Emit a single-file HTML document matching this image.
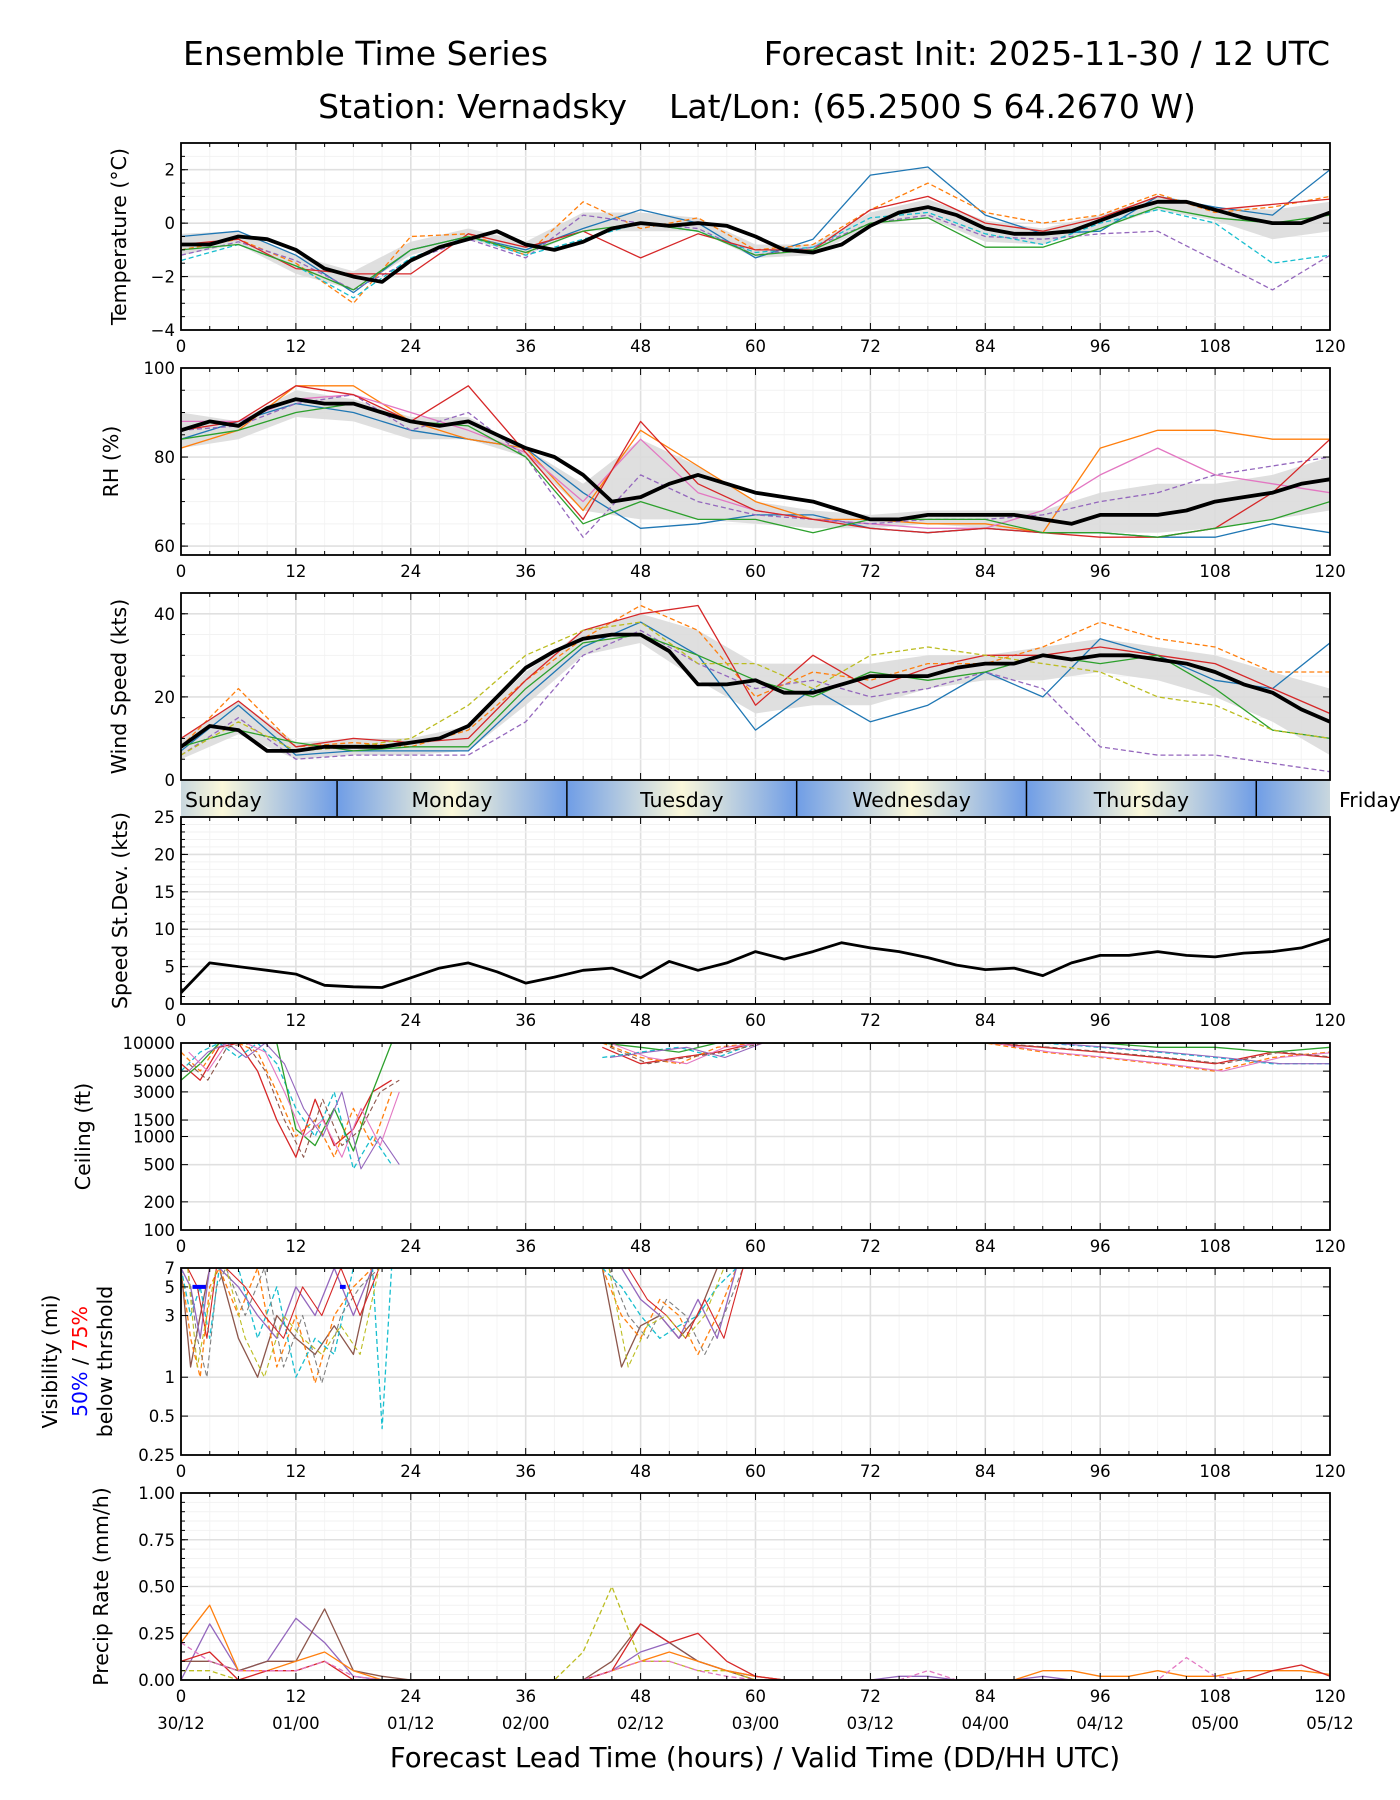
<!DOCTYPE html>
<html><head><meta charset="utf-8"><style>
html,body{margin:0;padding:0;background:#fff;}
svg{display:block;font-family:"DejaVu Sans","Liberation Sans",sans-serif;}
</style></head><body>
<svg id="fig" xmlns="http://www.w3.org/2000/svg" width="1400" height="1800" viewBox="0 0 1400 1800">
<defs>
<linearGradient id="dayGrad" gradientUnits="userSpaceOnUse" x1="0" y1="0" x2="1" y2="0"></linearGradient>
</defs>
<text x="183" y="65" font-size="33">Ensemble Time Series</text>
<text x="1330" y="65" font-size="33" text-anchor="end">Forecast Init: 2025-11-30 / 12 UTC</text>
<text x="757" y="118" font-size="33" text-anchor="middle" xml:space="preserve">Station: Vernadsky    Lat/Lon: (65.2500 S 64.2670 W)</text>
<text x="755" y="1767" font-size="27.5" text-anchor="middle">Forecast Lead Time (hours) / Valid Time (DD/HH UTC)</text>
</svg>
<script>
// ---------- data ----------
const hours3 = [0,3,6,9,12,15,18,21,24,27,30,33,36,39,42,45,48,51,54,57,60,63,66,69,72,75,78,81,84,87,90,93,96,99,102,105,108,111,114,117,120];
const hours6 = [0,6,12,18,24,30,36,42,48,54,60,66,72,78,84,90,96,102,108,114,120];
const xTickLabels = ['0','12','24','36','48','60','72','84','96','108','120'];
const dateLabels = ['30/12','01/00','01/12','02/00','02/12','03/00','03/12','04/00','04/12','05/00','05/12'];
const dayNames = ['Sunday','Monday','Tuesday','Wednesday','Thursday','Friday'];

const tempMean = [-0.8,-0.8,-0.5,-0.6,-1.0,-1.7,-2.0,-2.2,-1.4,-0.9,-0.6,-0.3,-0.8,-1.0,-0.7,-0.2,0.0,-0.1,0.0,-0.1,-0.5,-1.0,-1.1,-0.8,-0.1,0.4,0.6,0.3,-0.2,-0.4,-0.4,-0.3,0.1,0.5,0.8,0.8,0.5,0.2,0.0,0.0,0.4];
const tempLo = [-1.2,-0.8,-1.9,-2.5,-1.2,-0.6,-1.2,-0.3,-0.3,-0.3,-1.3,-1.2,-0.1,0.2,-0.7,-0.8,-0.2,0.5,0.1,-0.6,-0.3];
const tempHi = [-0.4,-0.3,-1.2,-1.8,-0.7,-0.2,-0.7,0.4,0.4,0.2,-0.8,-0.8,0.4,0.9,0.1,-0.2,0.3,1.0,0.6,0.5,0.8];
const tempM1 = [-0.5,-0.3,-1.2,-2.6,-1.0,-0.5,-1.0,-0.2,0.5,0.0,-1.3,-0.6,1.8,2.1,0.3,-0.4,-0.3,1.0,0.6,0.3,2.0];
const tempM2 = [-1.0,-0.6,-1.5,-3.0,-0.5,-0.4,-1.2,0.8,-0.2,0.2,-1.0,-0.8,0.5,1.5,0.4,0.0,0.3,1.1,0.4,0.6,1.0];
const tempM3 = [-1.2,-0.7,-1.4,-2.5,-1.4,-0.6,-1.3,0.3,0.0,-0.2,-1.2,-0.9,0.0,0.3,-0.5,-0.6,-0.4,-0.3,-1.4,-2.5,-1.2];
const tempM4 = [-1.4,-0.8,-1.6,-2.8,-1.3,-0.5,-1.2,-0.6,0.0,-0.3,-1.1,-0.9,0.2,0.4,-0.4,-0.8,0.0,0.5,0.0,-1.5,-1.2];
const tempM5 = [-0.8,-0.6,-1.7,-1.9,-1.9,-0.4,-0.9,-0.3,-1.3,-0.4,-1.0,-1.0,0.5,1.0,0.0,-0.3,0.2,1.0,0.5,0.7,0.9];
const tempM6 = [-1.0,-0.8,-1.6,-2.5,-1.0,-0.5,-1.1,-0.3,0.0,-0.3,-1.2,-1.0,0.0,0.2,-0.9,-0.9,-0.2,0.6,0.2,0.0,0.3];

const rhMean = [86,88,87,91,93,92,92,90,88,87,88,85,82,80,76,70,71,74,76,74,72,71,70,68,66,66,67,67,67,67,66,65,67,67,67,68,70,71,72,74,75];
const rhLo = [82,84,89,88,84,84,80,68,66,66,65,64,64,65,64,63,63,63,64,66,68];
const rhHi = [90,88,95,93,89,89,82,74,84,78,70,68,67,68,68,68,72,74,74,76,80];
const rhM1 = [84,88,92,90,86,84,82,72,64,65,67,67,64,63,64,63,63,62,62,65,63];
const rhM2 = [82,86,96,96,88,84,82,68,86,78,70,66,66,65,65,63,82,86,86,84,84];
const rhM3 = [88,88,93,94,90,86,81,70,84,72,68,66,65,64,64,68,76,82,76,74,72];
const rhM4 = [86,87,92,94,86,90,80,62,76,70,67,66,65,66,66,67,70,72,76,78,80];
const rhM5 = [86,88,96,94,88,96,81,66,88,74,68,66,64,63,64,63,62,62,64,72,84];
const rhM6 = [84,86,90,92,88,87,80,65,70,66,66,63,66,66,66,63,63,62,64,66,70];

const windMean = [8,13,12,7,7,8,8,8,9,10,13,20,27,31,34,35,35,31,23,23,24,21,21,23,25,25,25,27,28,28,30,29,30,30,29,28,26,23,21,17,14];
const windLo = [5,11,5,6,6,7,18,30,33,24,16,18,18,22,24,24,26,24,20,14,6];
const windHi = [10,19,9,10,10,13,26,36,40,36,28,28,28,30,30,32,34,32,30,26,22];
const windM1 = [7,18,6,7,7,7,20,32,38,30,12,22,14,18,26,20,34,30,24,22,33];
const windM2 = [8,22,8,9,8,12,24,34,42,36,20,26,24,28,28,32,38,34,32,26,26];
const windM3 = [6,15,5,6,6,6,14,30,36,28,22,24,20,22,26,22,8,6,6,4,2];
const windM4 = [10,19,8,10,9,10,24,36,40,42,18,30,22,27,30,30,32,30,28,22,16];
const windM5 = [8,12,9,7,8,8,22,33,35,30,24,20,26,24,26,30,28,30,22,12,10];
const windM6 = [6,14,7,8,10,18,30,36,38,28,28,22,30,32,30,28,26,20,18,12,10];

const sdev = [1.5,5.5,5,4.5,4,2.5,2.3,2.2,3.5,4.8,5.5,4.3,2.8,3.6,4.5,4.8,3.5,5.7,4.5,5.5,7,6,7,8.2,7.5,7,6.2,5.2,4.6,4.8,3.8,5.5,6.5,6.5,7,6.5,6.3,6.8,7,7.5,8.7];

const ceilHours = [0,2,4,6,8,10,12,14,16,18,20,22,44,48,52,56,60,66,72,78,84,90,96,102,108,114,120];
const ceilA = [6000,4000,9000,10000,5000,1500,600,2500,800,1200,3000,4000,9000,6000,7000,8000,10000,10000,10000,10000,10000,9000,8000,7000,6000,8000,7000];
const ceilB = [5000,8000,10000,7000,10000,6000,2000,1000,3000,450,1000,500,7000,8000,9000,7000,10000,10000,10000,10000,10000,10000,9000,8000,7000,6000,6000];
const ceilC = [8000,5000,10000,10000,8000,3000,1000,1500,600,2000,800,3000,10000,7000,6000,9000,10000,10000,10000,10000,10000,8000,7000,6000,5000,7000,8000];
const ceilD = [4000,6000,10000,10000,10000,10000,1200,800,2000,700,3000,10000,10000,9000,8000,10000,10000,10000,10000,10000,10000,10000,10000,9000,9000,8000,9000];

const visHours = [0,1,2,3,4,6,8,10,12,14,16,18,20,21,22,44,46,48,50,52,54,56,58];
const visA = [7,1.2,3,7,7,2,1,3,2,1.5,2.5,1.5,7,7,7,7,1.2,2.5,3,2,3,7,7];
const visB = [7,2,1,5,7,3,7,1.2,3,0.9,3,5,7,7,7,7,3,2,4,3,1.5,3,7];
const visC = [7,3,5,2,7,7,2,5,1,2,1.5,7,7,0.4,7,7,5,3,2,2.5,3,5,7];
const visD = [7,5,2,7,7,5,3,2,5,3,7,3,7,7,7,7,7,4,3,2,4,2,7];

const precA = [0,0.3,0.05,0.1,0.33,0.2,0.02,0,0,0,0,0,0,0,0,0.05,0.15,0.2,0.1,0.05,0.02,0,0,0,0,0.02,0.02,0,0,0,0.02,0,0,0,0,0,0,0,0,0,0];
const precB = [0.1,0.1,0.05,0.1,0.1,0.38,0.05,0.02,0,0,0,0,0,0,0,0.1,0.3,0.2,0.1,0.05,0,0,0,0,0,0,0,0,0,0,0,0,0,0,0,0,0,0,0,0,0];
const precC = [0.05,0.05,0,0,0,0,0,0,0,0,0,0,0,0,0.15,0.5,0.1,0.1,0.05,0.05,0,0,0,0,0,0,0,0,0,0,0,0,0,0,0,0,0,0,0,0,0];
const precD = [0.2,0.4,0.05,0.05,0.1,0.15,0.05,0,0,0,0,0,0,0,0,0.05,0.1,0.15,0.1,0.05,0.02,0,0,0,0,0,0,0,0,0,0.05,0.05,0.02,0.02,0.05,0.02,0.02,0.05,0.05,0.05,0.03];
const precE = [0.1,0.15,0,0.05,0.05,0.1,0,0,0,0,0,0,0,0,0,0.05,0.3,0.2,0.25,0.1,0.02,0,0,0,0,0,0,0,0,0,0,0,0,0,0,0,0,0,0.05,0.08,0.02];
const precF = [0.2,0.1,0.05,0.05,0.05,0.1,0.02,0,0,0,0,0,0,0,0,0.05,0.1,0.1,0.05,0.02,0,0,0,0,0,0,0.05,0,0,0,0,0,0,0,0,0.12,0.02,0,0,0,0];

// ---------- drawing ----------
const NS = 'http://www.w3.org/2000/svg';
const svg = document.getElementById('fig');
const L = 181, R = 1330, H = 187;
const TF = 16.5, YF = 20.5;
const C = ['#1f77b4','#ff7f0e','#2ca02c','#d62728','#9467bd','#8c564b','#e377c2','#7f7f7f','#bcbd22','#17becf'];
function mk(tag, parent){ const e = document.createElementNS(NS, tag); (parent||svg).appendChild(e); return e; }
function xs(h){ return L + h*(R-L)/120; }

function panel(id, top, ymin, ymax, log){
  const g = mk('g');
  
  
  const cp = mk('clipPath', g); cp.setAttribute('id', 'clip-' + id);
  const cr = mk('rect', cp);
  cr.setAttribute('x', L); cr.setAttribute('y', top); cr.setAttribute('width', R-L); cr.setAttribute('height', H);
  const f = log ? Math.log10 : (v)=>v;
  const ys = (v)=> top + H - (f(v)-f(ymin))/(f(ymax)-f(ymin))*H;
  return {g, top, ys, id};
}
function gridAndAxes(p, yTicks, yMinor, yLabels, xLabelsOn){
  const {g, top, ys} = p;
  const gg = mk('g', g);
  
  
  for (let h=0; h<=120; h+=3){
    const ln = mk('line', gg);
    ln.setAttribute('x1', xs(h)); ln.setAttribute('x2', xs(h)); ln.setAttribute('y1', top); ln.setAttribute('y2', top+H);
    ln.setAttribute('stroke', h%12===0 ? '#e0e0e0' : '#f4f4f4'); ln.setAttribute('stroke-width', h%12===0 ? 1.6 : 1);
  }
  yMinor.forEach(v=>{
    const ln = mk('line', gg);
    ln.setAttribute('x1', L); ln.setAttribute('x2', R); ln.setAttribute('y1', ys(v)); ln.setAttribute('y2', ys(v));
    ln.setAttribute('stroke', '#f2f2f2'); ln.setAttribute('stroke-width', 1);
  });
  yTicks.forEach(v=>{
    const ln = mk('line', gg);
    ln.setAttribute('x1', L); ln.setAttribute('x2', R); ln.setAttribute('y1', ys(v)); ln.setAttribute('y2', ys(v));
    ln.setAttribute('stroke', '#e0e0e0'); ln.setAttribute('stroke-width', 1.6);
  });
  p.finish = ()=>{
    const ax = mk('g', g);
    
    
    const fr = mk('rect', ax);
    fr.setAttribute('x', L); fr.setAttribute('y', top); fr.setAttribute('width', R-L); fr.setAttribute('height', H);
    fr.setAttribute('fill', 'none'); fr.setAttribute('stroke', '#000'); fr.setAttribute('stroke-width', 1.8);
    for (let h=0; h<=120; h+=3){
      const len = h%12===0 ? 7 : 4;
      [[top, top+len],[top+H, top+H-len]].forEach(([a,b])=>{
        const t = mk('line', ax);
        t.setAttribute('x1', xs(h)); t.setAttribute('x2', xs(h)); t.setAttribute('y1', a); t.setAttribute('y2', b);
        t.setAttribute('stroke', '#000'); t.setAttribute('stroke-width', 1);
      });
    }
    yTicks.forEach((v,i)=>{
      [[L, L+7],[R, R-7]].forEach(([a,b])=>{
        const t = mk('line', ax);
        t.setAttribute('x1', a); t.setAttribute('x2', b); t.setAttribute('y1', ys(v)); t.setAttribute('y2', ys(v));
        t.setAttribute('stroke', '#000'); t.setAttribute('stroke-width', 1);
      });
      const tx = mk('text', ax);
      
      
      tx.setAttribute('x', L-6); tx.setAttribute('y', ys(v)+6); tx.setAttribute('font-size', TF); tx.setAttribute('text-anchor', 'end');
      tx.textContent = yLabels[i];
    });
    yMinor.forEach(v=>{
      const t = mk('line', ax);
      t.setAttribute('x1', L); t.setAttribute('x2', L+4); t.setAttribute('y1', ys(v)); t.setAttribute('y2', ys(v));
      t.setAttribute('stroke', '#000'); t.setAttribute('stroke-width', 1);
    });
    if (xLabelsOn){
      xTickLabels.forEach((lb,i)=>{
        const tx = mk('text', ax);
        
        
        tx.setAttribute('x', xs(i*12)); tx.setAttribute('y', top+H+22); tx.setAttribute('font-size', TF); tx.setAttribute('text-anchor', 'middle');
        tx.textContent = lb;
      });
    }
  };
}
function ylabel(p, x, lines){
  const t = mk('text', p.g);
  
  
  const cy = p.top + H/2;
  t.setAttribute('transform', 'translate(' + x + ',' + cy + ') rotate(-90)');
  t.setAttribute('text-anchor', 'middle'); t.setAttribute('font-size', YF);
  t.textContent = lines;
  return t;
}
function series(p, hrs, vals, color, width, dash, name){
  let d = '', pen = false, prevH = null;
  vals.forEach((v,i)=>{
    if (v === null){ pen = false; prevH = null; return; }
    if (prevH !== null && hrs[i]-prevH > 12) pen = false;
    d += (pen ? 'L' : 'M') + xs(hrs[i]).toFixed(1) + ' ' + p.ys(v).toFixed(1) + ' ';
    pen = true; prevH = hrs[i];
  });
  const pa = mk('path', p.g);
  
  
  pa.setAttribute('d', d); pa.setAttribute('fill', 'none'); pa.setAttribute('stroke', color);
  pa.setAttribute('stroke-width', width); pa.setAttribute('stroke-linejoin', 'round');
  pa.setAttribute('clip-path', 'url(#clip-' + p.id + ')');
  if (dash) pa.setAttribute('stroke-dasharray', dash);
}
function band(p, hrs, lo, hi){
  let d = '';
  hrs.forEach((h,i)=>{ d += (i ? 'L' : 'M') + xs(h).toFixed(1) + ' ' + p.ys(hi[i]).toFixed(1) + ' '; });
  for (let i=hrs.length-1; i>=0; i--) d += 'L' + xs(hrs[i]).toFixed(1) + ' ' + p.ys(lo[i]).toFixed(1) + ' ';
  const pa = mk('path', p.g);
  
  
  pa.setAttribute('d', d + 'Z'); pa.setAttribute('fill', '#d9d9d9'); pa.setAttribute('opacity', 0.85);
  pa.setAttribute('clip-path', 'url(#clip-' + p.id + ')');
}
function range(a,b,s){ const r=[]; for(let v=a; v<=b+1e-9; v+=s) r.push(+v.toFixed(3)); return r; }

// Temperature
const pT = panel('temperature', 143, -4, 3, false);
gridAndAxes(pT, [-4,-2,0,2], range(-3.5,3,0.5), ['\u22124','\u22122','0','2'], true);
band(pT, hours6, tempLo, tempHi);
[[tempM1,0,null],[tempM2,1,'5,3'],[tempM3,4,'5,3'],[tempM4,9,'5,3'],[tempM5,3,null],[tempM6,2,null]].forEach(([a,c,d],i)=>series(pT, hours6, a, C[c], 1.3, d, 'temperature-member-' + (i+1)));
series(pT, hours3, tempMean, '#000', 3.8, null, 'temperature-mean-line');
pT.finish(); ylabel(pT, 126, 'Temperature (°C)');

// RH
const pR = panel('rh', 368, 58, 100, false);
gridAndAxes(pR, [60,80,100], range(60,100,5), ['60','80','100'], true);
band(pR, hours6, rhLo, rhHi);
[[rhM1,0,null],[rhM2,1,null],[rhM3,6,null],[rhM4,4,'5,3'],[rhM5,3,null],[rhM6,2,null]].forEach(([a,c,d],i)=>series(pR, hours6, a, C[c], 1.3, d, 'rh-member-' + (i+1)));
series(pR, hours3, rhMean, '#000', 3.8, null, 'rh-mean-line');
pR.finish(); ylabel(pR, 118, 'RH (%)');

// Wind
const pW = panel('wind', 593, 0, 45, false);
gridAndAxes(pW, [0,20,40], range(5,45,5), ['0','20','40'], false);
band(pW, hours6, windLo, windHi);
[[windM1,0,null],[windM2,1,'5,3'],[windM3,4,'5,3'],[windM4,3,null],[windM5,2,null],[windM6,8,'5,3']].forEach(([a,c,d],i)=>series(pW, hours6, a, C[c], 1.3, d, 'wind-member-' + (i+1)));
series(pW, hours3, windMean, '#000', 3.8, null, 'wind-mean-line');
pW.finish(); ylabel(pW, 126, 'Wind Speed (kts)');

// Day bar
(function(){
  const grad = document.getElementById('dayGrad');
  const h0 = -7.7, h1 = 136.3;
  grad.setAttribute('x1', xs(h0)); grad.setAttribute('x2', xs(h1));
  let k = 0;
  for (let m=h0; m<=h1+0.01; m+=12){
    const st = mk('stop', grad);
    st.setAttribute('offset', ((m-h0)/(h1-h0)).toFixed(4));
    st.setAttribute('stop-color', k%2===0 ? '#6f9de6' : '#fbf8da');
    k++;
  }
  const bar = mk('rect');
  
  
  bar.setAttribute('x', L); bar.setAttribute('y', 781); bar.setAttribute('width', R-L); bar.setAttribute('height', 36);
  bar.setAttribute('fill', 'url(#dayGrad)');
  for (let k=0; k<5; k++){
    const ln = mk('line');
    
    
    const x = xs(16.3 + 24*k);
    ln.setAttribute('x1', x); ln.setAttribute('x2', x); ln.setAttribute('y1', 781); ln.setAttribute('y2', 817);
    ln.setAttribute('stroke', '#000'); ln.setAttribute('stroke-width', 1.5);
  }
  dayNames.forEach((n,k)=>{
    const t = mk('text');
    
    
    t.setAttribute('font-size', YF); t.setAttribute('y', 807);
    if (k < 5){ t.setAttribute('x', k===0 ? 185 : xs(4.3 + 24*k)); t.setAttribute('text-anchor', k===0 ? 'start' : 'middle'); }
    else { t.setAttribute('x', 1339); }
    t.textContent = n;
  });
})();

// Speed StDev
const pS = panel('speed-stdev', 817, 0, 25, false);
gridAndAxes(pS, [0,5,10,15,20,25], range(1,25,1), ['0','5','10','15','20','25'], true);
series(pS, hours3, sdev, '#000', 2.8, null, 'speed-stdev-line');
pS.finish(); ylabel(pS, 127, 'Speed St.Dev. (kts)');

// Ceiling
const pC = panel('ceiling', 1043, 100, 10000, true);
gridAndAxes(pC, [100,200,500,1000,1500,3000,5000,10000], [], ['100','200','500','1000','1500','3000','5000','10000'], true);
[[ceilA,3,null],[ceilB,9,'5,3'],[ceilC,1,'5,3'],[ceilD,2,null]].forEach(([a,c,d],i)=>series(pC, ceilHours, a, C[c], 1.3, d, 'ceiling-member-' + (i+1)));
[[ceilB,4,null],[ceilC,6,null],[ceilA,5,'5,3']].forEach(([a,c,d],i)=>series(pC, ceilHours.map(h=>h+0.8), a, C[c], 1.1, d, 'ceiling-member-extra-' + (i+1)));
pC.finish(); ylabel(pC, 90, 'Ceiling (ft)');

// Visibility
const pV = panel('visibility', 1268, 0.25, 7, true);
gridAndAxes(pV, [0.25,0.5,1,3,5,7], [], ['0.25','0.5','1','3','5','7'], true);
[[visA,5,null],[visB,1,'5,3'],[visC,9,'5,3'],[visD,4,null]].forEach(([a,c,d],i)=>series(pV, visHours, a, C[c], 1.3, d, 'visibility-member-' + (i+1)));
[[visB,7,'5,3'],[visD,3,null],[visA,8,'5,3']].forEach(([a,c,d],i)=>series(pV, visHours.map(h=>h+0.7), a, C[c], 1.1, d, 'visibility-member-extra-' + (i+1)));
pV.finish();
(function(){
  const t = mk('text', pV.g);
  
  
  t.setAttribute('transform', 'translate(0,' + (1268 + H/2) + ') rotate(-90)');
  t.setAttribute('text-anchor', 'middle'); t.setAttribute('font-size', YF);
  const a = mk('tspan', t); a.setAttribute('x', 0); a.setAttribute('y', 57); a.textContent = 'Visibility (mi)';
  const b = mk('tspan', t); b.setAttribute('x', 0); b.setAttribute('y', 87);
  const b1 = mk('tspan', b); b1.setAttribute('fill', '#0000ff'); b1.textContent = '50%';
  const b2 = mk('tspan', b); b2.textContent = ' / ';
  const b3 = mk('tspan', b); b3.setAttribute('fill', '#ff0000'); b3.textContent = '75%';
  const c = mk('tspan', t); c.setAttribute('x', 0); c.setAttribute('y', 112); c.textContent = 'below thrshold';
  [[1.2,2.6],[16.6,17.2]].forEach(([h1,h2])=>{
    const ln = mk('line', pV.g);
    
    
    ln.setAttribute('x1', xs(h1)); ln.setAttribute('x2', xs(h2)); ln.setAttribute('y1', pV.ys(5)); ln.setAttribute('y2', pV.ys(5));
    ln.setAttribute('stroke', '#0000ff'); ln.setAttribute('stroke-width', 4);
  });
})();

// Precip
const pP = panel('precip', 1493, 0, 1, false);
gridAndAxes(pP, [0,0.25,0.5,0.75,1], range(0.05,1,0.05), ['0.00','0.25','0.50','0.75','1.00'], true);
[[precA,4,null],[precB,5,null],[precC,8,'5,3'],[precD,1,null],[precE,3,null],[precF,6,'5,3']].forEach(([a,c,d],i)=>series(pP, hours3, a, C[c], 1.3, d, 'precip-member-' + (i+1)));
pP.finish(); ylabel(pP, 108, 'Precip Rate (mm/h)');
dateLabels.forEach((lb,i)=>{
  const tx = mk('text');
  
  
  tx.setAttribute('x', xs(i*12)); tx.setAttribute('y', 1729); tx.setAttribute('font-size', TF); tx.setAttribute('text-anchor', 'middle');
  tx.textContent = lb;
});
</script>
</body></html>
